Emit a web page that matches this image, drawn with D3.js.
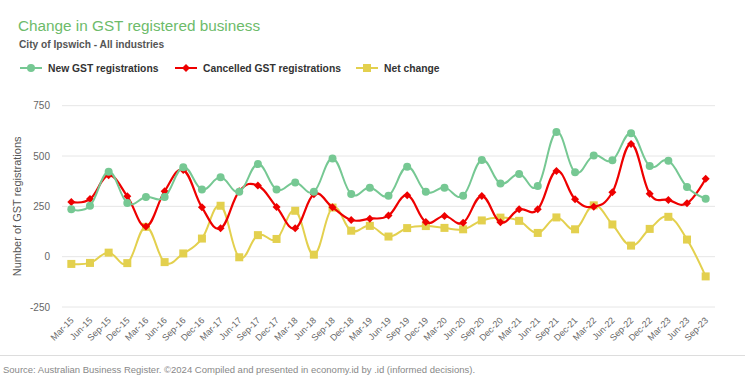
<!DOCTYPE html>
<html>
<head>
<meta charset="utf-8">
<script src="https://cdn.jsdelivr.net/npm/d3@7"></script>
<style>
  body { margin: 0; background: #fff; }
  svg { font-family: "Liberation Sans", Arial, sans-serif; }
</style>
</head>
<body>
<div id="chart"></div>
<script>
// Quarter labels
const quarters = ["Mar-15","Jun-15","Sep-15","Dec-15","Mar-16","Jun-16","Sep-16","Dec-16",
  "Mar-17","Jun-17","Sep-17","Dec-17","Mar-18","Jun-18","Sep-18","Dec-18",
  "Mar-19","Jun-19","Sep-19","Dec-19","Mar-20","Jun-20","Sep-20","Dec-20",
  "Mar-21","Jun-21","Sep-21","Dec-21","Mar-22","Jun-22","Sep-22","Dec-22",
  "Mar-23","Jun-23","Sep-23"];

// Series values
const newRegs = [235,253,422,267,296,296,444,334,394,322,460,334,369,323,488,311,343,303,447,323,
  343,303,480,364,411,351,619,419,502,479,613,450,477,346,288];
const cancelledRegs = [272,286,404,300,150,325,430,245,141,325,353,247,141,310,245,182,189,204,305,172,
  202,169,301,171,235,235,426,285,248,320,560,313,282,265,387];
const netChange = [-36,-31,20,-32,148,-27,16,90,253,-3,107,88,228,10,244,129,153,100,142,152,
  143,136,180,194,178,118,195,136,255,160,55,138,198,85,-98];

const yTicks = [-250, 0, 250, 500, 750];

const width = 756, height = 386;
const margin = { left: 62, right: 41, top: 105.7, bottom: 79 };

const svg = d3.select("#chart").append("svg")
    .attr("width", width)
    .attr("height", height);

// Title block
svg.append("text")
    .attr("x", 18).attr("y", 31)
    .attr("font-size", "15.3px")
    .attr("fill", "#6dbb6a")
    .text("Change in GST registered business");

svg.append("text")
    .attr("x", 19).attr("y", 48)
    .attr("font-size", "10.2px")
    .attr("font-weight", "bold")
    .attr("fill", "#555")
    .text("City of Ipswich - All industries");

// Scales
const x = d3.scaleBand()
    .domain(quarters)
    .range([margin.left, width - margin.right]);

const y = d3.scaleLinear()
    .domain([-250, 750])
    .range([height - margin.bottom, margin.top]);

// Gridlines
svg.append("g")
    .selectAll("line")
    .data(yTicks)
    .enter().append("line")
    .attr("x1", margin.left)
    .attr("x2", width - margin.right)
    .attr("y1", d => y(d))
    .attr("y2", d => y(d))
    .attr("stroke", "#e6e6e6")
    .attr("stroke-width", 1);

// Y tick labels
svg.append("g")
    .selectAll("text")
    .data(yTicks)
    .enter().append("text")
    .attr("x", 50)
    .attr("y", d => y(d))
    .attr("dy", "0.35em")
    .attr("text-anchor", "end")
    .attr("font-size", "10px")
    .attr("fill", "#666")
    .text(d => d);

// Y axis title
svg.append("text")
    .attr("transform", `translate(21, ${(y(750) + y(-250)) / 2}) rotate(-90)`)
    .attr("text-anchor", "middle")
    .attr("font-size", "11px")
    .attr("fill", "#555")
    .text("Number of GST registrations");

// X tick labels
svg.append("g")
    .selectAll("text")
    .data(quarters)
    .enter().append("text")
    .attr("transform", d => `translate(${x(d) + x.bandwidth() / 2 + 3}, ${y(-250) + 14}) rotate(-45)`)
    .attr("text-anchor", "end")
    .attr("font-size", "9px")
    .attr("fill", "#666")
    .text(d => d);

// Series
const series = [
    { name: "New GST registrations", values: newRegs, color: "#76c893", shape: "circle" },
    { name: "Cancelled GST registrations", values: cancelledRegs, color: "#ee0000", shape: "diamond" },
    { name: "Net change", values: netChange, color: "#e3d04e", shape: "square" }
];

const line = d3.line()
    .x((d, i) => x(quarters[i]) + x.bandwidth() / 2)
    .y(d => y(d))
    .curve(d3.curveCardinal.tension(-0.2));

function drawMarker(g, shape, color, cx, cy) {
    if (shape === "circle") {
        g.append("circle").attr("cx", cx).attr("cy", cy).attr("r", 4).attr("fill", color);
    } else if (shape === "diamond") {
        g.append("path")
            .attr("d", `M${cx},${cy - 4}L${cx + 4},${cy}L${cx},${cy + 4}L${cx - 4},${cy}Z`)
            .attr("fill", color);
    } else {
        g.append("rect").attr("x", cx - 4).attr("y", cy - 4).attr("width", 8).attr("height", 8)
            .attr("fill", color);
    }
}

// Draw in reverse so the green series sits on top like the original
series.slice().reverse().forEach(s => {
    const g = svg.append("g");
    g.append("path")
        .datum(s.values)
        .attr("fill", "none")
        .attr("stroke", s.color)
        .attr("stroke-width", s.shape === "diamond" ? 2.2 : 2)
        .attr("d", line);
    s.values.forEach((v, i) => {
        drawMarker(g, s.shape, s.color, x(quarters[i]) + x.bandwidth() / 2, y(v));
    });
});

// Legend
const legendX = [20, 175, 356];
series.forEach((s, i) => {
    const lg = svg.append("g").attr("transform", `translate(${legendX[i]}, 68)`);
    lg.append("line")
        .attr("x1", 0).attr("x2", 22)
        .attr("stroke", s.color).attr("stroke-width", 2);
    drawMarker(lg, s.shape, s.color, 11, 0);
    lg.append("text")
        .attr("x", 28).attr("y", 0).attr("dy", "0.35em")
        .attr("font-size", "10.3px")
        .attr("font-weight", "bold")
        .attr("fill", "#333")
        .text(s.name);
});

// Footer
svg.append("line")
    .attr("x1", 0).attr("x2", 745)
    .attr("y1", 355.5).attr("y2", 355.5)
    .attr("stroke", "#ddd");

svg.append("text")
    .attr("x", 3).attr("y", 373)
    .attr("font-size", "9.5px")
    .attr("fill", "#888")
    .text("Source: Australian Business Register. \u00a92024 Compiled and presented in economy.id by .id (informed decisions).");
</script>
</body>
</html>
